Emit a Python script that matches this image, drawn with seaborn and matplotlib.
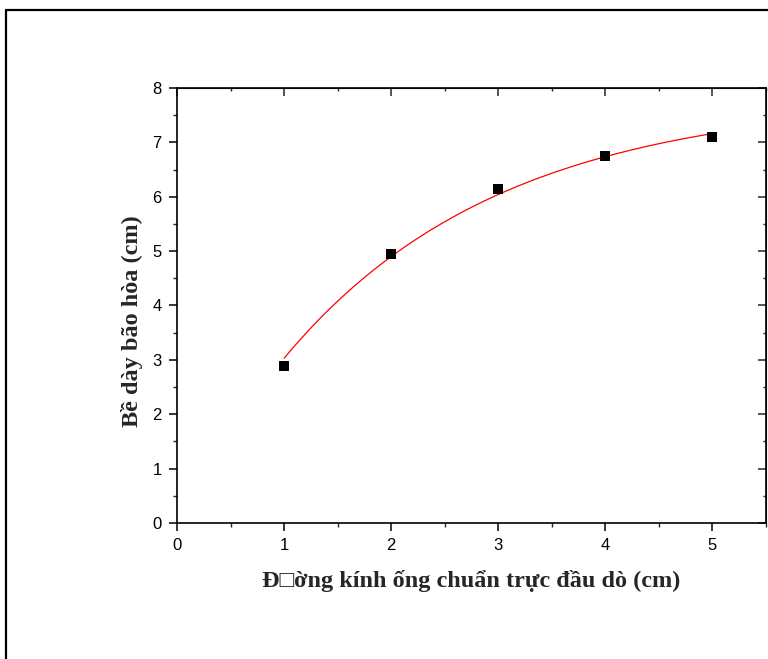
import numpy as np
import pandas as pd
import matplotlib
matplotlib.use("Agg")
import matplotlib.pyplot as plt
import seaborn as sns
from matplotlib.lines import Line2D
from matplotlib.ticker import MultipleLocator

# Data
diameter = [1, 2, 3, 4, 5]
thickness = [2.89, 4.94, 6.15, 6.75, 7.09]
# red fitted curve, read at the same x positions
fit_read = [3.03, 4.90, 6.04, 6.74, 7.16]

x_ticks = [0, 1, 2, 3, 4, 5]
y_ticks = [0, 1, 2, 3, 4, 5, 6, 7, 8]

x_label = "Đ\u25a1ờng kính ống chuẩn trực đầu dò (cm)"
y_label = "Bề dày bão hòa (cm)"

df = pd.DataFrame({"d": diameter, "t": thickness})

# ExpDec1 model y = y0 + A*exp(-x/tau), matched to the read curve values
xd = np.array(diameter, float)
yd = np.array(fit_read, float)
best = None
for tau in np.linspace(0.3, 10, 3000):
    M = np.column_stack([np.ones_like(xd), np.exp(-xd / tau)])
    coef, *_ = np.linalg.lstsq(M, yd, rcond=None)
    err = np.sum((M @ coef - yd) ** 2)
    if best is None or err < best[0]:
        best = (err, tau, coef)
_, tau, coef = best
xf = np.linspace(1, 5, 200)
fit = pd.DataFrame({"d": xf, "t": coef[0] + coef[1] * np.exp(-xf / tau)})

sns.set_style("ticks")
plt.rcParams["font.family"] = ["Liberation Sans", "DejaVu Sans"]

fig = plt.figure(figsize=(7.68, 6.59), dpi=100)
ax = fig.add_axes([0.2305, 0.2064, 0.7669, 0.6601])

sns.lineplot(data=fit, x="d", y="t", ax=ax, color="red", linewidth=0.9)
sns.scatterplot(data=df, x="d", y="t", ax=ax, marker="s", color="black",
                s=52, edgecolor="none", zorder=3)

ax.set_xlim(0, 5.5)
ax.set_ylim(0, 8)
ax.set_xticks(x_ticks)
ax.set_yticks(y_ticks)
ax.xaxis.set_minor_locator(MultipleLocator(0.5))
ax.yaxis.set_minor_locator(MultipleLocator(0.5))
ax.tick_params(axis="both", which="major", direction="out", length=6, width=1.1,
               labelsize=12, colors="black", pad=5)
ax.tick_params(axis="both", which="minor", direction="out", length=3, width=1.0)
for s in ax.spines.values():
    s.set_linewidth(1.2)
    s.set_color("black")

# top/right inward ticks
axt = ax.secondary_xaxis("top")
axt.set_xticks(x_ticks)
axt.xaxis.set_minor_locator(MultipleLocator(0.5))
axt.tick_params(which="major", direction="in", length=6, width=1.1, labeltop=False)
axt.tick_params(which="minor", direction="in", length=2, width=1.0)
axr = ax.secondary_yaxis("right")
axr.set_yticks(y_ticks)
axr.yaxis.set_minor_locator(MultipleLocator(0.5))
axr.tick_params(which="major", direction="in", length=6, width=1.1, labelright=False)
axr.tick_params(which="minor", direction="in", length=2, width=1.0)

serif = ["Liberation Serif", "DejaVu Serif"]
ax.set_xlabel(x_label, fontsize=17.5, fontweight="bold", family=serif, labelpad=12)
ax.set_ylabel(y_label, fontsize=17.5, fontweight="bold", family=serif, labelpad=7)
ax.yaxis.label.set_y(0.464)

# outer frame
x0 = 6 / 768
y0 = 1 - 10 / 659
fig.add_artist(Line2D([x0, x0], [0, y0], color="black", linewidth=1.6, transform=fig.transFigure))
fig.add_artist(Line2D([x0, 1], [y0, y0], color="black", linewidth=1.6, transform=fig.transFigure))

fig.savefig("out.png", dpi=100)
